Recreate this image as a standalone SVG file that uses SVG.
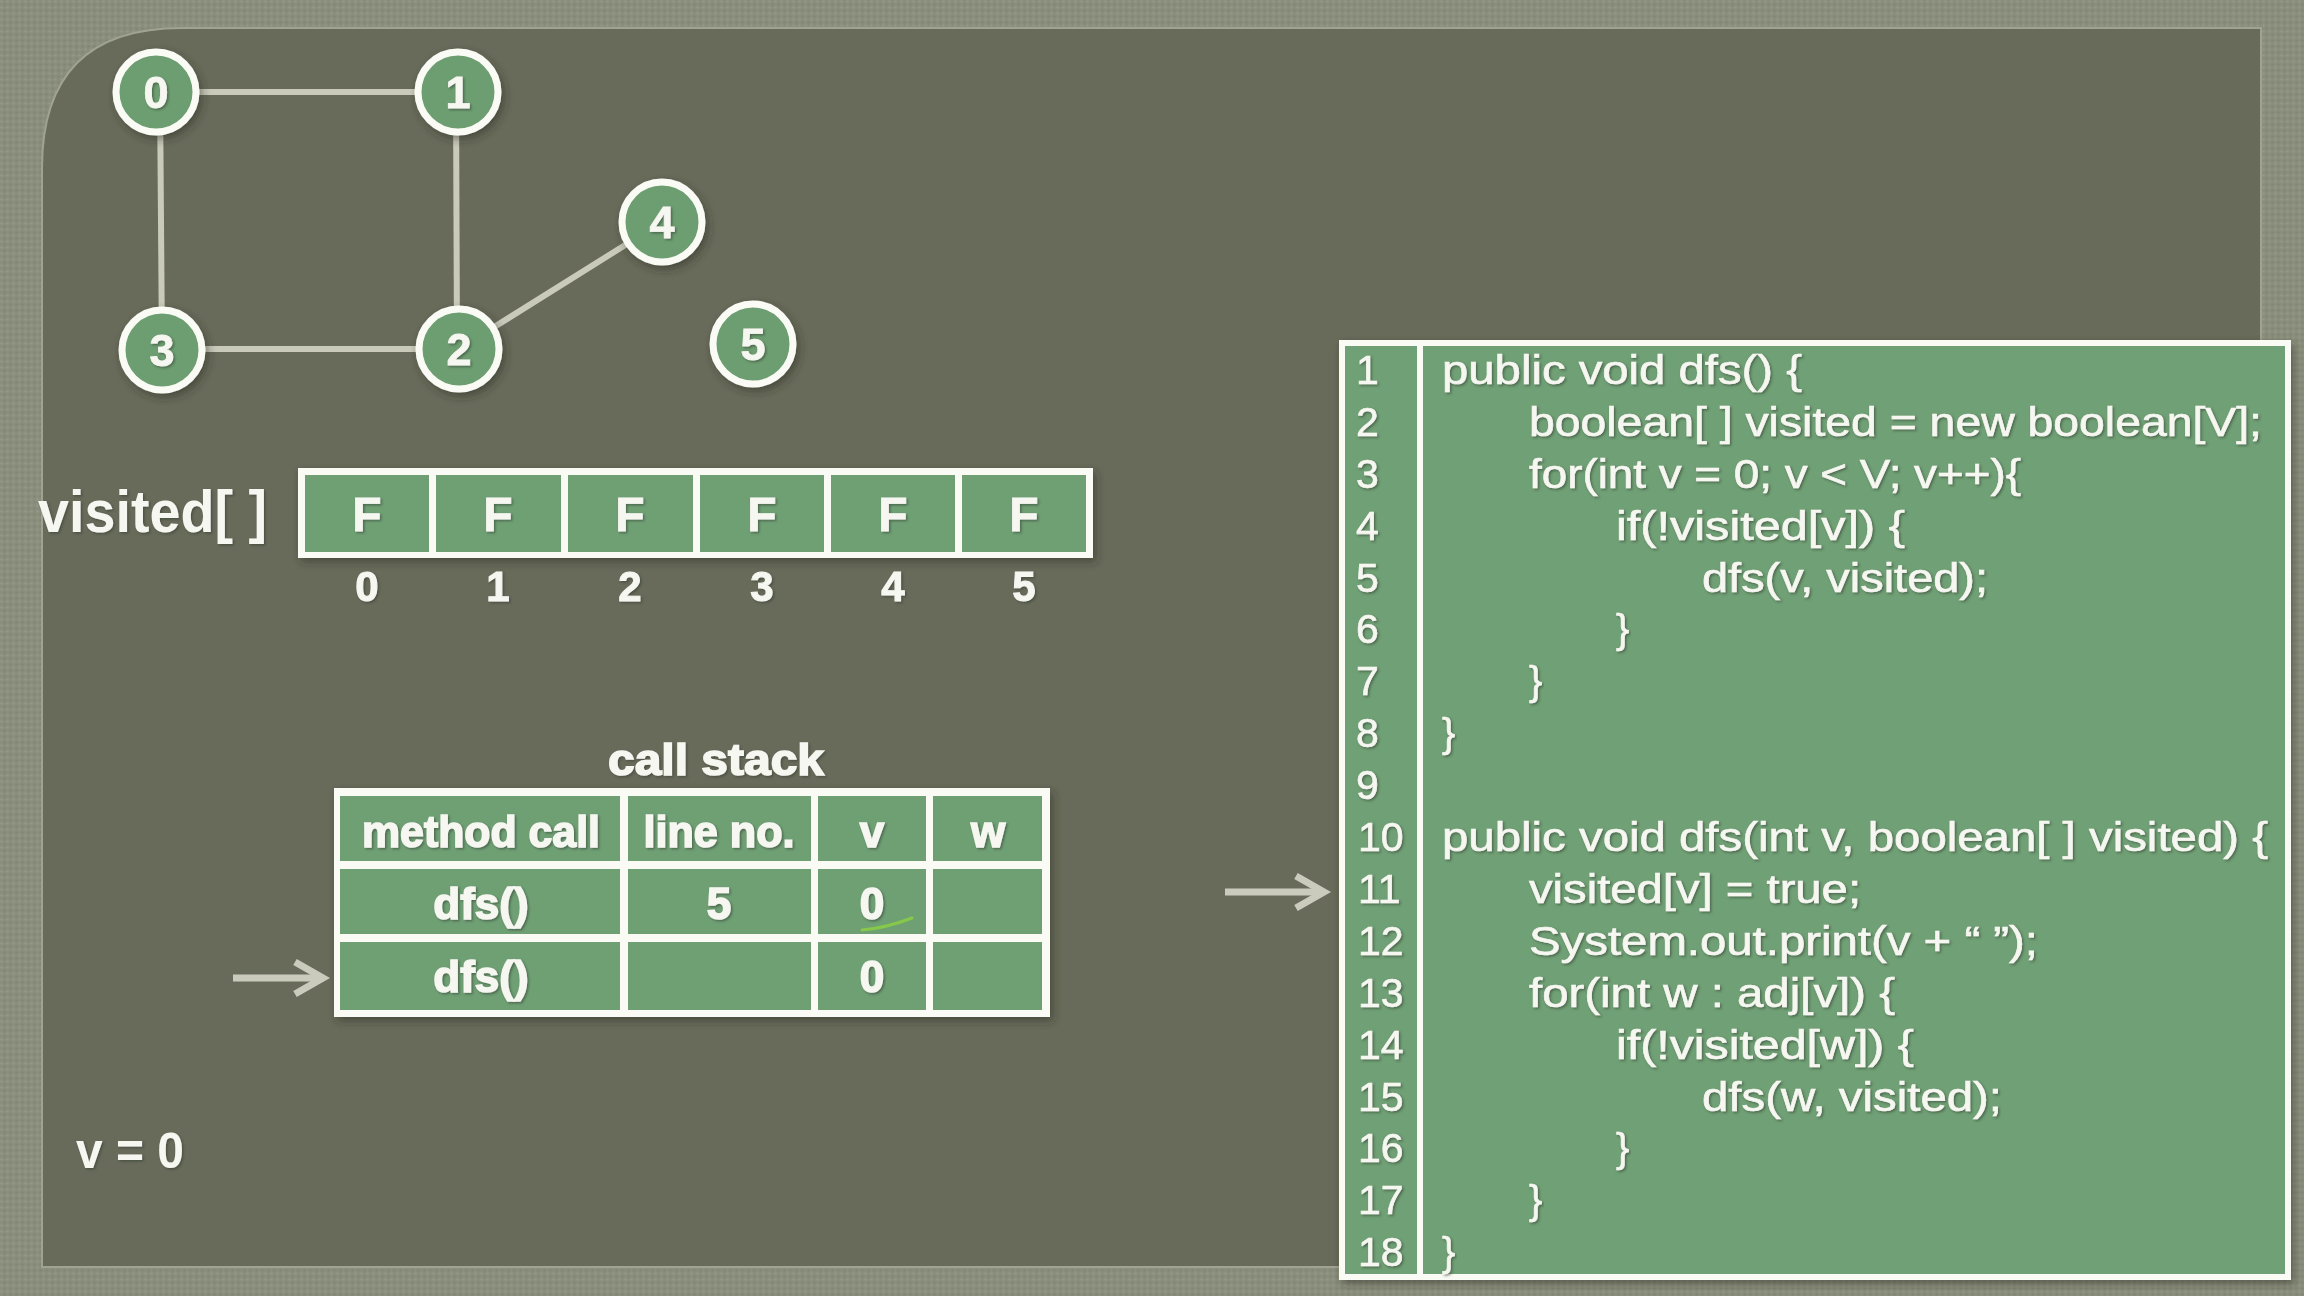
<svg xmlns="http://www.w3.org/2000/svg" width="2304" height="1296" viewBox="0 0 2304 1296">
<defs>
<pattern id="tex" width="6" height="6" patternUnits="userSpaceOnUse">
<rect width="6" height="6" fill="#8a8e7c"/>
<circle cx="1.5" cy="1.5" r="1.1" fill="#979b89"/>
<circle cx="4.5" cy="4.5" r="1.1" fill="#7f8371"/>
</pattern>
<filter id="ts" x="-10%" y="-30%" width="120%" height="160%">
<feDropShadow dx="1.5" dy="1.5" stdDeviation="1" flood-color="#2e3a2e" flood-opacity="0.55"/>
</filter>
<filter id="sh" x="-10%" y="-10%" width="130%" height="130%">
<feDropShadow dx="3" dy="4" stdDeviation="4" flood-color="#2a2c22" flood-opacity="0.5"/>
</filter>
<marker id="ah" markerUnits="userSpaceOnUse" markerWidth="44" markerHeight="44" viewBox="0 0 44 44" refX="36" refY="22" orient="auto">
<path d="M8,6 L36,22 L8,38" fill="none" stroke="#cbcbbd" stroke-width="7" stroke-linejoin="miter"/>
</marker>
</defs>
<style>
text{font-family:"Liberation Sans",Arial,Helvetica,sans-serif;fill:#f7f7f2;filter:url(#ts)}
.b{font-weight:bold}
.node circle{fill:#6d9e71;stroke:#fbfbf6;stroke-width:7;filter:url(#sh)}
.node text{font-size:45px;font-weight:bold;text-anchor:middle;stroke:#f7f7f2;stroke-width:0.8}
.edge{stroke:#cacabb;stroke-width:6;stroke-linecap:butt}
.cell{fill:#6fa074}
.val{font-size:48px;font-weight:bold;text-anchor:middle;stroke:#f7f7f2;stroke-width:0.8}
.idx{font-size:42px;font-weight:bold;text-anchor:middle;stroke:#f7f7f2;stroke-width:1}
.th{font-size:44px;font-weight:bold;text-anchor:middle;stroke:#f7f7f2;stroke-width:1.6}
.code{font-size:40px;stroke:#f7f7f2;stroke-width:0.6}
.ln{font-size:41px;stroke:#f7f7f2;stroke-width:0.6}
.arrow{stroke:#cbcbbd;stroke-width:7;fill:none;marker-end:url(#ah)}
</style>

<rect width="2304" height="1296" fill="url(#tex)"/>
<path id="panel" d="M42,168 Q42,28 182,28 L2261,28 L2261,1267 L42,1267 Z" fill="#686b5a" stroke="#a0a390" stroke-width="2"/>

<g id="connectors">
<line class="edge" x1="155" y1="92" x2="458" y2="92"/>
<line class="edge" x1="160" y1="92" x2="162" y2="350"/>
<line class="edge" x1="456" y1="92" x2="457" y2="349"/>
<line class="edge" x1="162" y1="349" x2="459" y2="349"/>
<line class="edge" x1="459" y1="349" x2="662" y2="222"/>
<line class="arrow" x1="1225" y1="892" x2="1324" y2="892"/>
<line class="arrow" x1="233" y1="978" x2="323" y2="978"/>
</g>

<g id="node-0" class="node"><circle cx="156" cy="92" r="40"/><text x="156" y="108">0</text></g>
<g id="node-1" class="node"><circle cx="458" cy="92" r="40"/><text x="458" y="108">1</text></g>
<g id="node-4" class="node"><circle cx="662" cy="222" r="40"/><text x="662" y="238">4</text></g>
<g id="node-3" class="node"><circle cx="162" cy="350" r="40"/><text x="162" y="366">3</text></g>
<g id="node-2" class="node"><circle cx="459" cy="349" r="40"/><text x="459" y="365">2</text></g>
<g id="node-5" class="node"><circle cx="753" cy="344" r="40"/><text x="753" y="360">5</text></g>

<g id="visited">
<text x="38" y="532" class="b" font-size="60" textLength="229" lengthAdjust="spacingAndGlyphs">visited[ ]</text>
<rect x="298" y="468" width="795" height="90" fill="#fbfbf6" filter="url(#sh)"/>
<rect class="cell" x="305" y="475" width="124" height="77"/>
<rect class="cell" x="436" y="475" width="125" height="77"/>
<rect class="cell" x="568" y="475" width="125" height="77"/>
<rect class="cell" x="700" y="475" width="124" height="77"/>
<rect class="cell" x="831" y="475" width="124" height="77"/>
<rect class="cell" x="962" y="475" width="124" height="77"/>
<text class="val" x="367" y="531">F</text>
<text class="val" x="498" y="531">F</text>
<text class="val" x="630" y="531">F</text>
<text class="val" x="762" y="531">F</text>
<text class="val" x="893" y="531">F</text>
<text class="val" x="1024" y="531">F</text>
<text class="idx" x="367" y="601">0</text>
<text class="idx" x="498" y="601">1</text>
<text class="idx" x="630" y="601">2</text>
<text class="idx" x="762" y="601">3</text>
<text class="idx" x="893" y="601">4</text>
<text class="idx" x="1024" y="601">5</text>
</g>

<g id="call-stack">
<text class="th" x="716" y="775" textLength="216" lengthAdjust="spacingAndGlyphs">call stack</text>
<rect x="334" y="788" width="716" height="229" fill="#fbfbf6" filter="url(#sh)"/>
<rect class="cell" x="340" y="796" width="280" height="65"/>
<rect class="cell" x="628" y="796" width="183" height="65"/>
<rect class="cell" x="818" y="796" width="108" height="65"/>
<rect class="cell" x="933" y="796" width="109" height="65"/>
<rect class="cell" x="340" y="869" width="280" height="65"/>
<rect class="cell" x="628" y="869" width="183" height="65"/>
<rect class="cell" x="818" y="869" width="108" height="65"/>
<rect class="cell" x="933" y="869" width="109" height="65"/>
<rect class="cell" x="340" y="942" width="280" height="68"/>
<rect class="cell" x="628" y="942" width="183" height="68"/>
<rect class="cell" x="818" y="942" width="108" height="68"/>
<rect class="cell" x="933" y="942" width="109" height="68"/>
<text class="th" x="481" y="847" textLength="238" lengthAdjust="spacingAndGlyphs">method call</text>
<text class="th" x="719" y="847" textLength="151" lengthAdjust="spacingAndGlyphs">line no.</text>
<text class="th" x="872" y="847">v</text>
<text class="th" x="988" y="847">w</text>
<text class="th" x="481" y="919">dfs()</text>
<text class="th" x="719" y="919">5</text>
<text class="th" x="872" y="919">0</text>
<text class="th" x="481" y="992">dfs()</text>
<text class="th" x="872" y="992">0</text>
<path d="M862,930 Q886,928 912,918" fill="none" stroke="#86c84a" stroke-width="3" stroke-linecap="round"/>
</g>

<text id="v-label" x="76" y="1168" class="b" font-size="50" textLength="108" lengthAdjust="spacingAndGlyphs">v = 0</text>

<g id="code">
<rect x="1342" y="343" width="946" height="934" fill="#6fa074" stroke="#fbfbf6" stroke-width="6" filter="url(#sh)"/>
<line x1="1420" y1="343" x2="1420" y2="1277" stroke="#fbfbf6" stroke-width="6"/>
<g class="ln">
<text x="1356" y="384">1</text>
<text x="1356" y="436">2</text>
<text x="1356" y="488">3</text>
<text x="1356" y="540">4</text>
<text x="1356" y="592">5</text>
<text x="1356" y="643">6</text>
<text x="1356" y="695">7</text>
<text x="1356" y="747">8</text>
<text x="1356" y="799">9</text>
<text x="1358" y="851">10</text>
<text x="1358" y="903">11</text>
<text x="1358" y="955">12</text>
<text x="1358" y="1007">13</text>
<text x="1358" y="1059">14</text>
<text x="1358" y="1111">15</text>
<text x="1358" y="1162">16</text>
<text x="1358" y="1214">17</text>
<text x="1358" y="1266">18</text>
</g>
<g class="code">
<text x="1442" y="384" textLength="360" lengthAdjust="spacingAndGlyphs">public void dfs() {</text>
<text x="1529" y="436" textLength="733" lengthAdjust="spacingAndGlyphs">boolean[ ] visited = new boolean[V];</text>
<text x="1529" y="488" textLength="492" lengthAdjust="spacingAndGlyphs">for(int v = 0; v &lt; V; v++){</text>
<text x="1616" y="540" textLength="289" lengthAdjust="spacingAndGlyphs">if(!visited[v]) {</text>
<text x="1702" y="592" textLength="286" lengthAdjust="spacingAndGlyphs">dfs(v, visited);</text>
<text x="1616" y="643">}</text>
<text x="1529" y="695">}</text>
<text x="1442" y="747">}</text>
<text x="1442" y="851" textLength="826" lengthAdjust="spacingAndGlyphs">public void dfs(int v, boolean[ ] visited) {</text>
<text x="1529" y="903" textLength="332" lengthAdjust="spacingAndGlyphs">visited[v] = true;</text>
<text x="1529" y="955" textLength="509" lengthAdjust="spacingAndGlyphs">System.out.print(v + “ ”);</text>
<text x="1529" y="1007" textLength="366" lengthAdjust="spacingAndGlyphs">for(int w : adj[v]) {</text>
<text x="1616" y="1059" textLength="298" lengthAdjust="spacingAndGlyphs">if(!visited[w]) {</text>
<text x="1702" y="1111" textLength="300" lengthAdjust="spacingAndGlyphs">dfs(w, visited);</text>
<text x="1616" y="1162">}</text>
<text x="1529" y="1214">}</text>
<text x="1442" y="1266">}</text>
</g>
</g>
</svg>
